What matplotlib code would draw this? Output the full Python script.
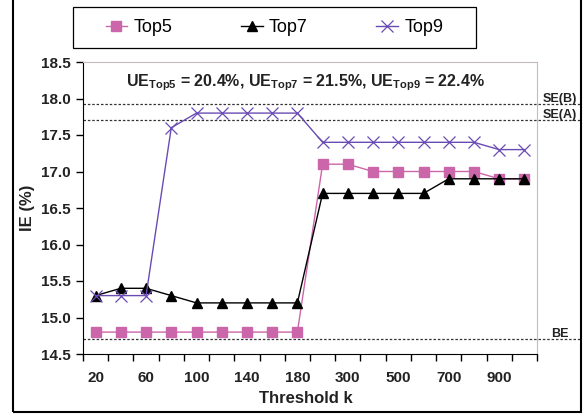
import matplotlib
matplotlib.use("Agg")
import matplotlib.pyplot as plt
from matplotlib.patches import Rectangle

plt.rcParams['font.family'] = ['Liberation Sans', 'DejaVu Sans']
plt.rcParams['mathtext.fontset'] = 'custom'
plt.rcParams['mathtext.rm'] = 'Liberation Sans:bold'
plt.rcParams['mathtext.bf'] = 'Liberation Sans:bold'

# data
thresholds = [20, 40, 60, 80, 100, 120, 140, 160, 180,
              200, 300, 400, 500, 600, 700, 800, 900, 1000]
top5 = [14.8, 14.8, 14.8, 14.8, 14.8, 14.8, 14.8, 14.8, 14.8,
        17.1, 17.1, 17.0, 17.0, 17.0, 17.0, 17.0, 16.9, 16.9]
top7 = [15.3, 15.4, 15.4, 15.3, 15.2, 15.2, 15.2, 15.2, 15.2,
        16.7, 16.7, 16.7, 16.7, 16.7, 16.9, 16.9, 16.9, 16.9]
top9 = [15.3, 15.3, 15.3, 17.6, 17.8, 17.8, 17.8, 17.8, 17.8,
        17.4, 17.4, 17.4, 17.4, 17.4, 17.4, 17.4, 17.3, 17.3]
ref_names = ['SE(B)', 'SE(A)', 'BE']
ref_values = [17.92, 17.7, 14.7]
ue_text = r"UE$_{\mathrm{Top5}}$ = 20.4%, UE$_{\mathrm{Top7}}$ = 21.5%, UE$_{\mathrm{Top9}}$ = 22.4%"

pink = '#cc66aa'
purple = '#6a4bb4'
txt = '#222222'

fig = plt.figure(figsize=(5.85, 4.16), dpi=100)
ax = fig.add_axes([83/585, 1-354/416, 454/585, 292/416])

x = list(range(len(thresholds)))
ax.plot(x, top5, color=pink, marker='s', markersize=6.5, lw=1.0, label='Top5')
ax.plot(x, top7, color='black', marker='^', markersize=7, lw=1.0, label='Top7')
ax.plot(x, top9, color=purple, marker='x', markersize=8, mew=0.9, lw=1.0, label='Top9')

xmax_ext = (581 - 83) / 454
for name, val in zip(ref_names, ref_values):
    ax.axhline(val, xmin=0, xmax=xmax_ext, color='#333333', ls=(0, (2, 1.5)),
               lw=0.9, clip_on=False, zorder=1)
    ax.text(1.0 + (560 - 537) / 454, val + 0.035, name, transform=ax.get_yaxis_transform(),
            ha='center', va='baseline', fontsize=9, fontweight='bold', color=txt)

ax.text(0.489, 0.928, ue_text, transform=ax.transAxes, ha='center', va='center',
        fontsize=11.5, fontweight='bold', color=txt)

ax.set_xlim(-0.5, len(thresholds) - 0.5)
ax.set_ylim(14.5, 18.5)
ax.set_yticks([14.5 + 0.5 * i for i in range(9)])
ax.set_yticklabels(['%.1f' % (14.5 + 0.5 * i) for i in range(9)])
ax.set_xticks([i - 0.5 for i in range(len(thresholds) + 1)])
ax.set_xticklabels([])
ax.set_xticks(x[::2], minor=True)
ax.set_xticklabels([str(t) for t in thresholds[::2]], minor=True)
ax.tick_params(axis='x', which='minor', length=0, pad=12)
ax.tick_params(axis='both', which='major', length=5, width=1, direction='out')
ax.tick_params(axis='y', pad=4)
for lab in ax.get_xticklabels(minor=True) + ax.get_yticklabels():
    lab.set_fontweight('bold')
    lab.set_fontsize(11)
    lab.set_color(txt)

ax.spines['left'].set_color('black')
ax.spines['bottom'].set_color('black')
ax.spines['top'].set_color('#c4bcbc')
ax.spines['right'].set_color('#c4bcbc')

ax.set_ylabel('IE (%)', fontsize=12, fontweight='bold', color=txt)
ax.set_xlabel('Threshold k', fontsize=12, fontweight='bold', color=txt)
ax.yaxis.set_label_coords(-(83 - 35) / 454, 0.5)
ax.xaxis.set_label_coords(0.49, -(391 - 354) / 292)

leg = ax.legend(loc='center', ncol=3,
                bbox_to_anchor=((73 + 476) / 2 / 585, 1 - 28 / 416),
                bbox_transform=fig.transFigure, fontsize=13, frameon=False,
                handlelength=1.2, handletextpad=0.35, columnspacing=3.8)

fig.patches.append(Rectangle((73/585, 1-48/416), (476-73)/585, 41/416,
                             transform=fig.transFigure, fill=False,
                             edgecolor='black', lw=0.9))
fig.patches.append(Rectangle((13/585, 4/416), (581-13)/585, 1.0, transform=fig.transFigure,
                             fill=False, edgecolor='black', lw=1.5))

fig.savefig('out.png', dpi=100)
